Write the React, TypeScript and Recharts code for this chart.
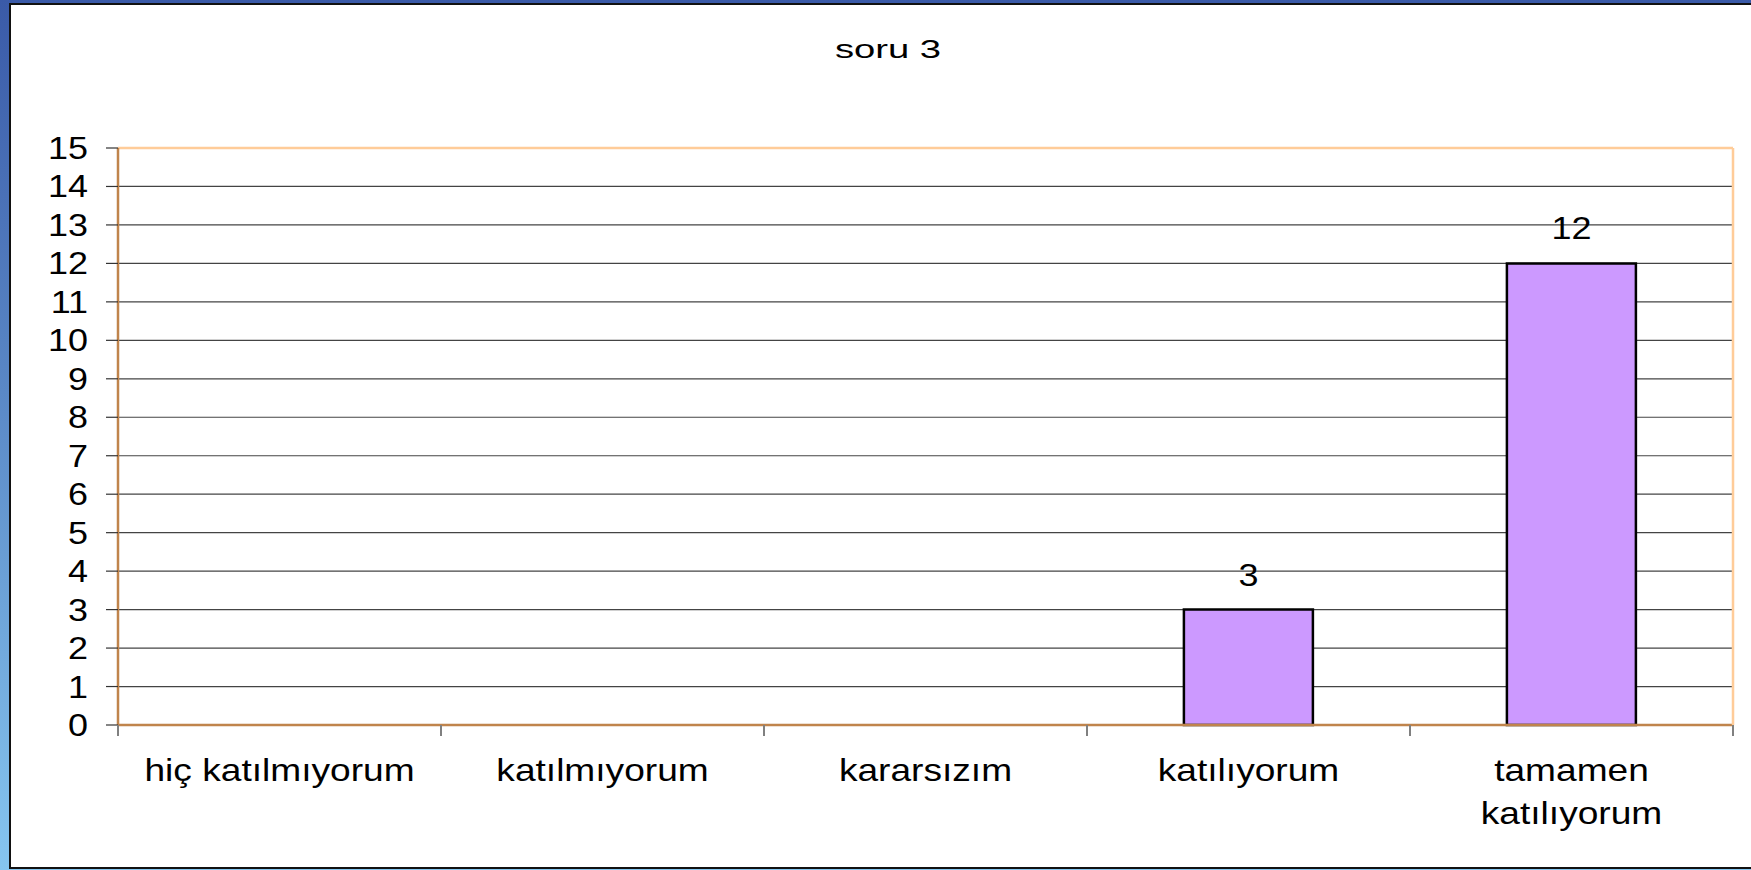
import React from "react";
import { BarChart, Bar, XAxis, YAxis, CartesianGrid, LabelList } from "recharts";

const title = "soru 3";
const categories = ["hiç katılmıyorum", "katılmıyorum", "kararsızım", "katılıyorum", "tamamen katılıyorum"];
const values = [0, 0, 0, 3, 12];
const yTicks = [0, 1, 2, 3, 4, 5, 6, 7, 8, 9, 10, 11, 12, 13, 14, 15];

const data = categories.map((name, i) => ({ name, value: values[i] }));

const FONT = '"Liberation Sans", Arial, Helvetica, sans-serif';
const SX = 1.16;
const TICK_FS = 31;
const CAT_FS = 32;
const WRAP_W = 262;
const LINE_H = 43;
const CAT_MARGIN = 33;
const EDGE_TICK = 11;

let ctx: CanvasRenderingContext2D | null = null;
const measure = (s: string) => {
  if (!ctx) {
    const c = document.createElement("canvas");
    ctx = c.getContext("2d");
  }
  if (!ctx) return s.length * CAT_FS * 0.5;
  ctx.font = `${CAT_FS}px ${FONT}`;
  return ctx.measureText(s).width;
};

const wrap = (label: string) => {
  const words = String(label).split(" ");
  const lines: string[] = [];
  let cur = "";
  words.forEach((w) => {
    const cand = cur ? cur + " " + w : w;
    if (cur && measure(cand) > WRAP_W) {
      lines.push(cur);
      cur = w;
    } else {
      cur = cand;
    }
  });
  if (cur) lines.push(cur);
  return lines;
};

const YTick = (props: any) => {
  const { x, y, payload } = props;
  return (
    <g transform={`translate(${x},${y}) scale(${SX},1)`}>
      <text x={0} y={0} dy="0.355em" textAnchor="end" fontFamily={FONT} fontSize={TICK_FS} fill="#000">
        {payload.value}
      </text>
    </g>
  );
};

const CatTick = (props: any) => {
  const { x, y, payload, index, visibleTicksCount } = props;
  const lines = wrap(payload.value);
  const half = payload.offset || 0;
  const axisY = y - CAT_MARGIN;
  const isLast = index === visibleTicksCount - 1;
  return (
    <g>
      <line x1={x - half} x2={x - half} y1={axisY} y2={axisY + EDGE_TICK} stroke="#808080" strokeWidth={2} />
      {isLast && (
        <line x1={x + half} x2={x + half} y1={axisY} y2={axisY + EDGE_TICK} stroke="#808080" strokeWidth={2} />
      )}
      <g transform={`translate(${x},${y}) scale(${SX},1)`}>
        <text x={0} y={0} textAnchor="middle" fontFamily={FONT} fontSize={CAT_FS} fill="#000">
          {lines.map((ln, i) => (
            <tspan key={i} x={0} dy={i === 0 ? "0.71em" : LINE_H}>
              {ln}
            </tspan>
          ))}
        </text>
      </g>
    </g>
  );
};

const BarLabel = (props: any) => {
  const { x, y, width, value } = props;
  if (!value) return null;
  return (
    <g transform={`translate(${x + width / 2},${y - 24}) scale(${SX},1)`}>
      <text x={0} y={0} textAnchor="middle" fontFamily={FONT} fontSize={TICK_FS} fill="#000">
        {value}
      </text>
    </g>
  );
};

export default function App() {
  return (
    <div
      style={{
        position: "absolute",
        left: 0,
        top: 0,
        width: 1751,
        height: 870,
        overflow: "hidden",
        background: "linear-gradient(to bottom, #3a5aa8 0%, #5a88c6 45%, #86c6f0 100%)",
      }}
    >
      <div
        style={{
          position: "absolute",
          left: 9,
          top: 3,
          width: 1760,
          height: 866,
          boxSizing: "border-box",
          border: "2px solid #111",
          background: "#fff",
        }}
      />
      <div style={{ position: "absolute", left: 0, top: 0 }}>
        <BarChart
          width={1751}
          height={870}
          data={data}
          margin={{ top: 147, right: 17, left: 0, bottom: 45 }}
          barCategoryGap="30%"
        >
          <CartesianGrid
            xAxisId="cat"
            yAxisId="left"
            vertical={false}
            stroke="#444"
            strokeWidth={1.2}
          />
          <XAxis
            xAxisId="cat"
            dataKey="name"
            height={100}
            interval={0}
            tickSize={0}
            tickMargin={CAT_MARGIN}
            tickLine={false}
            axisLine={{ stroke: "#c0844c", strokeWidth: 2.5 }}
            tick={<CatTick />}
          />
          <XAxis
            xAxisId="top"
            orientation="top"
            type="number"
            domain={[0, 5]}
            allowDataOverflow
            height={1}
            tick={false}
            tickLine={false}
            axisLine={{ stroke: "#ffcc99", strokeWidth: 2.5 }}
          />
          <YAxis
            yAxisId="left"
            domain={[0, 15]}
            ticks={yTicks}
            interval={0}
            width={118}
            tickSize={12}
            tickMargin={18}
            tickLine={{ stroke: "#333", strokeWidth: 1.2 }}
            axisLine={{ stroke: "#c0844c", strokeWidth: 2.5 }}
            tick={<YTick />}
          />
          <YAxis
            yAxisId="right"
            orientation="right"
            domain={[0, 15]}
            allowDataOverflow
            width={1}
            tick={false}
            tickLine={false}
            axisLine={{ stroke: "#ffcc99", strokeWidth: 2.5 }}
          />
          <Bar
            xAxisId="cat"
            yAxisId="left"
            dataKey="value"
            fill="#cc99ff"
            stroke="#000"
            strokeWidth={2.5}
            isAnimationActive={false}
          >
            <LabelList dataKey="value" content={<BarLabel />} />
          </Bar>
        </BarChart>
      </div>
      <svg
        width={1751}
        height={870}
        style={{ position: "absolute", left: 0, top: 0, pointerEvents: "none" }}
      >
        <g transform="translate(888,58) scale(1.53,1)">
          <text x={0} y={0} textAnchor="middle" fontFamily={FONT} fontSize={25} fill="#000">
            {title}
          </text>
        </g>
      </svg>
    </div>
  );
}
